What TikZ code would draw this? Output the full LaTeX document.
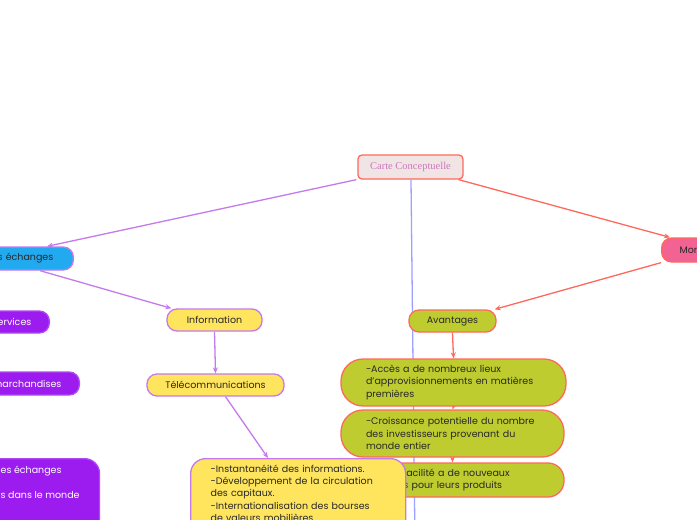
\documentclass[tikz,border=0pt]{standalone}
\usepackage{fontspec}
\setmainfont{Poppins}
\newfontfamily\titlefont{Liberation Serif}
\usetikzlibrary{arrows.meta,backgrounds,calc}

\definecolor{linkviolet}{RGB}{196,122,236}
\definecolor{linkred}{RGB}{255,104,92}
\definecolor{linkblue}{RGB}{160,160,255}
\definecolor{titlefill}{RGB}{241,228,228}
\definecolor{titletext}{RGB}{204,120,190}
\definecolor{topicblue}{RGB}{34,170,240}
\definecolor{topicpurple}{RGB}{156,28,240}
\definecolor{topicyellow}{RGB}{255,228,94}
\definecolor{topicgreen}{RGB}{190,204,48}
\definecolor{topicpink}{RGB}{242,98,146}
\definecolor{inktext}{RGB}{40,40,40}

\tikzset{
    >={Stealth[length=6pt,width=5pt]},
    bubble/.style={rounded corners=10pt, line width=1.3pt, minimum height=22pt,
        inner ysep=2pt, text=inktext, font=\fontsize{9.5}{12.4}\selectfont},
    titlebox/.style={bubble, rounded corners=4pt, fill=titlefill, draw=linkred,
        minimum width=105pt, minimum height=24pt, text=titletext,
        font=\titlefont\fontsize{10.5}{12}\selectfont},
    bluebox/.style={bubble, fill=topicblue, draw=linkviolet},
    purplebox/.style={bubble, fill=topicpurple, draw=topicpurple!80!white, text=white},
    yellowbox/.style={bubble, fill=topicyellow, draw=linkviolet},
    greenbox/.style={bubble, fill=topicgreen, draw=linkred},
    pinkbox/.style={bubble, fill=topicpink, draw=linkred, minimum height=24pt},
    vlink/.style={->, line width=1.3pt, draw=linkviolet},
    rlink/.style={->, line width=1.3pt, draw=linkred},
}

\begin{document}
\begin{tikzpicture}[x=1pt,y=-1pt]
    \useasboundingbox (0,0) rectangle (697,520);
    \clip (0,0) rectangle (697,520);

    % centre
    \node[titlebox] (carte) at (410.5,167) {Carte Conceptuelle};

    % left branch
    \node[bluebox, anchor=east, text width=120pt, align=right, inner xsep=20pt,
        minimum height=23pt] (echanges) at (74,258.5) {s échanges};
    \node[purplebox, anchor=east, inner xsep=18pt] (services) at (50,322) {ervices};
    \node[purplebox, anchor=east, inner xsep=18pt, minimum height=23pt]
        (marchandises) at (80,383.5) {marchandises};
    \node[purplebox, anchor=north west, rounded corners=15pt, align=left,
        inner xsep=20pt, inner ysep=7pt] (mondebox) at (-20,458)
        {es échanges\\[12.6pt]s dans le monde\\[12.6pt]\strut\\\strut};

    \node[yellowbox, minimum width=95pt] (info) at (214.5,320) {Information};
    \node[yellowbox, minimum width=137pt] (telecom) at (215.5,385) {Télécommunications};

    % right branch
    \node[pinkbox, anchor=west, inner xsep=18pt] (monde) at (661,250) {Mondialisation};
    \node[greenbox, minimum width=87pt] (avant) at (452.5,321) {Avantages};
    \node[greenbox, rounded corners=22pt, minimum width=225pt, minimum height=47pt,
        text width=175pt, align=left, inner xsep=25pt] (acces) at (453.5,382.5)
        {-Accès a de nombreux lieux\\d'approvisionnements en matières\\premières};
    \node[greenbox, rounded corners=22pt, minimum width=223pt, minimum height=47pt,
        text width=173pt, align=left, inner xsep=25pt] (croiss) at (452.5,433.5)
        {-Croissance potentielle du nombre\\des investisseurs provenant du\\monde entier};
    \node[greenbox, rounded corners=16pt, minimum width=223pt, minimum height=34pt,
        text width=173pt, align=left, inner xsep=25pt] (marches) at (452.5,480)
        {-Accès facilité a de nouveaux\\marchés pour leurs produits};

    % yellow box on top of the last green one
    \node[yellowbox, anchor=north west, rounded corners=15pt, text width=175pt,
        minimum width=215pt, align=left, inner xsep=20pt, inner ysep=6pt]
        (capitaux) at (190,458)
        {-Instantanéité des informations.\\-Développement de la circulation\\des capitaux.\\-Internationalisation des bourses\\de valeurs mobilières\\\strut};

    \coordinate (bas) at (415,545);

    \begin{scope}[on background layer]
        \draw[line width=1.3pt, draw=linkblue] ([xshift=0.5pt]carte.south) -- (bas);
        \draw[vlink] ([xshift=-1pt]carte.south west) -- ([xshift=-27pt]echanges.north east);
        \draw[rlink] ([xshift=-5pt]carte.south east) -- ([xshift=9pt]monde.north west);
        \draw[vlink] ([xshift=-34pt]echanges.south east) -- ([xshift=5pt]info.north west);
        \draw[vlink] (info.south) -- (telecom.north);
        \draw[vlink] ([xshift=10pt]telecom.south) -- ([xshift=78pt]capitaux.north west);
        \draw[rlink] (monde.south west) -- ([xshift=-2pt]avant.north east);
        \draw[rlink] (avant.south) -- (acces.north);
        \draw[rlink] (acces.south) -- (croiss.north);
        \draw[rlink] (croiss.south) -- (marches.north);
    \end{scope}
\end{tikzpicture}
\end{document}
